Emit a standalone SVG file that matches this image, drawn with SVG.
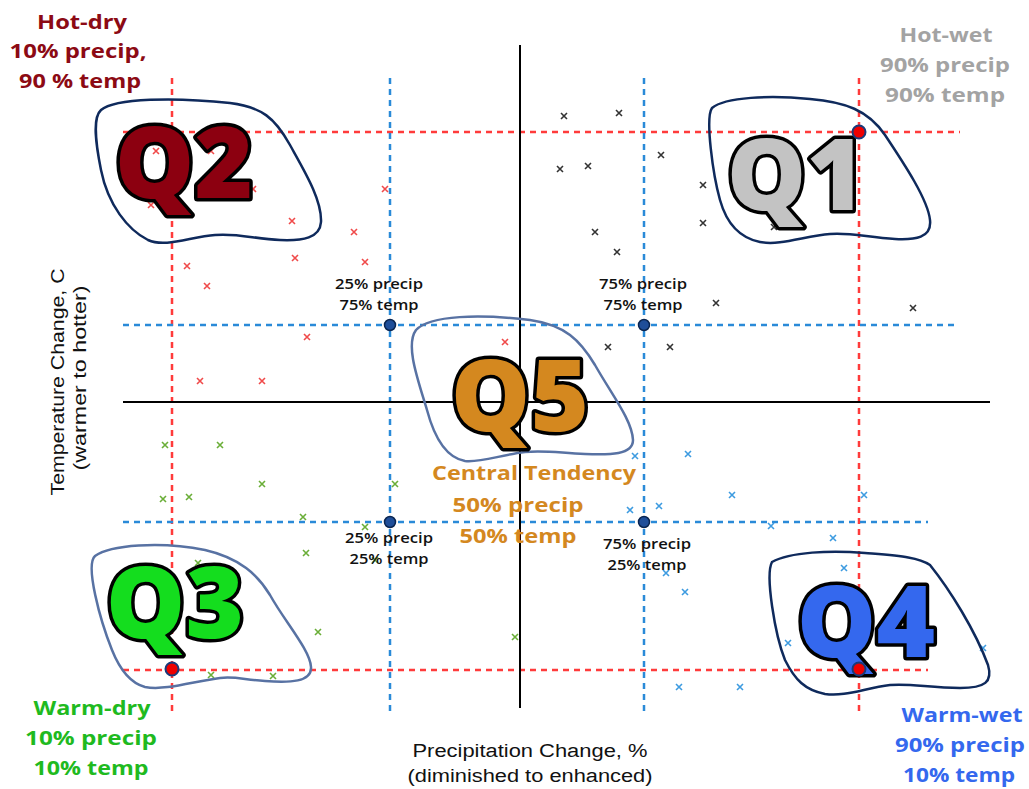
<svg xmlns="http://www.w3.org/2000/svg" width="1029" height="789" viewBox="0 0 1029 789">
  <defs>
    <style>
      .axis { stroke: #000; stroke-width: 2; fill: none; }
      .red-dash { stroke: #ff3b3b; stroke-width: 2.5; stroke-dasharray: 6 5; fill: none; }
      .blue-dash { stroke: #2a8ad8; stroke-width: 2.5; stroke-dasharray: 6 5; fill: none; }
      .blob-dark { fill: none; stroke: #0f2a5c; stroke-width: 2.5; }
      .blob-light { fill: none; stroke: #5872a3; stroke-width: 2.5; }
      .qlabel { font-family: "Open Sans", "DejaVu Sans", sans-serif; font-weight: 800; font-size: 100px; stroke: #000; stroke-width: 7; stroke-linejoin: round; paint-order: stroke; text-anchor: middle; }
      .corner { font-family: "Open Sans", "DejaVu Sans", sans-serif; font-weight: 700; font-size: 20px; text-anchor: middle; }
      .small { font-family: "Open Sans", "DejaVu Sans", sans-serif; font-weight: 600; font-size: 15px; fill: #111; text-anchor: middle; }
      .title { font-family: "Liberation Sans", Arial, sans-serif; font-size: 18px; fill: #111; text-anchor: middle; }
      .mk { stroke-width: 1.6; fill: none; }
      .pt-blue { fill: #1f4e99; stroke: #0a2550; stroke-width: 1.5; }
      .pt-red { fill: #ee0000; stroke: #1a3a7a; stroke-width: 2; }
    </style>
    <path id="x" d="M -3,-3 L 3,3 M 3,-3 L -3,3"/>
  </defs>

  <!-- Percentile guide lines and axes -->
  <g id="connectors">
    <line class="red-dash" x1="172" y1="78" x2="172" y2="712"/>
    <line class="red-dash" x1="859" y1="78" x2="859" y2="712"/>
    <line class="red-dash" x1="123" y1="132" x2="960" y2="132"/>
    <line class="red-dash" x1="123" y1="670" x2="928" y2="670"/>
    <line class="blue-dash" x1="390" y1="78" x2="390" y2="712"/>
    <line class="blue-dash" x1="644" y1="78" x2="644" y2="712"/>
    <line class="blue-dash" x1="123" y1="325" x2="958" y2="325"/>
    <line class="blue-dash" x1="123" y1="522" x2="928" y2="522"/>
    <line class="axis" x1="520" y1="45" x2="520" y2="708"/>
    <line class="axis" x1="123" y1="402" x2="990" y2="402"/>
  </g>

  <!-- Model projections -->
  <g id="scatter-hot-dry" class="mk" stroke="#f04a4a">
    <use href="#x" x="156" y="151"/><use href="#x" x="211" y="151"/><use href="#x" x="253" y="189"/>
    <use href="#x" x="385" y="189"/><use href="#x" x="151" y="205"/><use href="#x" x="292" y="221"/>
    <use href="#x" x="354" y="232"/><use href="#x" x="295" y="258"/><use href="#x" x="365" y="262"/>
    <use href="#x" x="187" y="266"/><use href="#x" x="207" y="286"/><use href="#x" x="307" y="337"/>
    <use href="#x" x="200" y="381"/><use href="#x" x="262" y="381"/><use href="#x" x="505" y="342"/>
  </g>
  <g id="scatter-hot-wet" class="mk" stroke="#333">
    <use href="#x" x="564" y="116"/><use href="#x" x="619" y="113"/><use href="#x" x="560" y="169"/>
    <use href="#x" x="588" y="166"/><use href="#x" x="661" y="155"/><use href="#x" x="703" y="185"/>
    <use href="#x" x="703" y="223"/><use href="#x" x="774" y="227"/><use href="#x" x="595" y="232"/>
    <use href="#x" x="617" y="252"/><use href="#x" x="716" y="303"/><use href="#x" x="913" y="308"/>
    <use href="#x" x="608" y="347"/><use href="#x" x="670" y="347"/>
  </g>
  <g id="scatter-warm-dry" class="mk" stroke="#6aae38">
    <use href="#x" x="165" y="445"/><use href="#x" x="220" y="445"/><use href="#x" x="262" y="484"/>
    <use href="#x" x="395" y="484"/><use href="#x" x="163" y="499"/><use href="#x" x="189" y="497"/>
    <use href="#x" x="303" y="517"/><use href="#x" x="365" y="527"/><use href="#x" x="306" y="553"/>
    <use href="#x" x="198" y="563"/><use href="#x" x="375" y="560"/><use href="#x" x="318" y="632"/>
    <use href="#x" x="515" y="637"/><use href="#x" x="211" y="675"/><use href="#x" x="273" y="676"/>
  </g>
  <g id="scatter-warm-wet" class="mk" stroke="#3d9be0">
    <use href="#x" x="635" y="456"/><use href="#x" x="688" y="454"/><use href="#x" x="732" y="495"/>
    <use href="#x" x="864" y="495"/><use href="#x" x="630" y="510"/><use href="#x" x="659" y="506"/>
    <use href="#x" x="771" y="526"/><use href="#x" x="833" y="538"/><use href="#x" x="844" y="568"/>
    <use href="#x" x="666" y="573"/><use href="#x" x="685" y="592"/><use href="#x" x="788" y="643"/>
    <use href="#x" x="983" y="648"/><use href="#x" x="679" y="687"/><use href="#x" x="740" y="687"/>
  </g>

  <!-- Quadrant groupings -->
  <g id="q2">
    <path class="blob-dark" d="M 101,110 C 115,98 175,97 230,103 C 262,107 275,118 290,145 C 305,172 322,200 321,222 C 320,238 303,241 280,240 C 255,239 238,233 215,235 C 190,237 165,248 148,240 C 128,230 108,205 101,170 C 96,145 92,118 101,110 Z"/>
    <text class="qlabel" x="184" y="198" fill="#8c0010">Q2</text>
  </g>
  <g id="q1">
    <path class="blob-dark" d="M 712,108 C 725,97 770,95 810,99 C 845,102 868,110 885,135 C 905,165 928,200 930,220 C 932,238 915,240 895,239 C 870,238 850,232 830,234 C 805,236 780,246 760,242 C 740,238 727,225 720,200 C 713,175 705,118 712,108 Z"/>
    <text class="qlabel" x="796" y="210" fill="#c3c3c3">Q1</text>
  </g>
  <g id="q5">
    <path class="blob-light" d="M 416,330 C 430,315 480,314 530,320 C 565,325 580,340 595,365 C 612,395 632,420 633,440 C 633,455 610,455 585,454 C 560,453 545,450 525,452 C 500,455 480,463 465,461 C 448,458 435,440 427,410 C 418,380 405,345 416,330 Z"/>
    <text class="qlabel" x="520" y="431" fill="#d4881f" font-size="96">Q5</text>
  </g>
  <g id="q3">
    <path class="blob-light" d="M 95,556 C 110,545 160,541 205,550 C 240,558 258,575 270,595 C 285,622 310,650 311,667 C 312,682 290,683 265,681 C 245,680 235,676 220,678 C 195,681 165,691 145,687 C 130,683 120,670 112,650 C 100,620 85,565 95,556 Z"/>
    <text class="qlabel" x="175" y="638" fill="#14dd1e">Q3</text>
  </g>
  <g id="q4">
    <path class="blob-dark" d="M 772,562 C 790,552 830,550 865,553 C 900,556 918,557 930,565 C 950,590 975,630 988,665 C 993,682 985,688 960,688 C 930,688 910,683 890,685 C 865,688 845,697 825,694 C 805,690 795,680 785,660 C 775,635 765,575 772,562 Z"/>
    <text class="qlabel" x="866" y="657" fill="#3468ee">Q4</text>
  </g>

  <!-- Percentile markers -->
  <g id="markers">
    <circle class="pt-blue" cx="390" cy="325" r="5.5"/>
    <circle class="pt-blue" cx="644" cy="325" r="5.5"/>
    <circle class="pt-blue" cx="390" cy="522" r="5.5"/>
    <circle class="pt-blue" cx="644" cy="522" r="5.5"/>
    <circle class="pt-red" cx="859" cy="132" r="6.5"/>
    <circle class="pt-red" cx="172" cy="669" r="6.5"/>
    <circle class="pt-red" cx="859" cy="669" r="6.5"/>
  </g>

  <!-- Percentile labels -->
  <g id="label-25-75">
    <text class="small" x="379" y="289" textLength="88" lengthAdjust="spacingAndGlyphs">25% precip</text>
    <text class="small" x="379" y="310" textLength="79" lengthAdjust="spacingAndGlyphs">75% temp</text>
  </g>
  <g id="label-75-75">
    <text class="small" x="643" y="289" textLength="88" lengthAdjust="spacingAndGlyphs">75% precip</text>
    <text class="small" x="643" y="310" textLength="79" lengthAdjust="spacingAndGlyphs">75% temp</text>
  </g>
  <g id="label-25-25">
    <text class="small" x="389" y="543" textLength="88" lengthAdjust="spacingAndGlyphs">25% precip</text>
    <text class="small" x="389" y="564" textLength="79" lengthAdjust="spacingAndGlyphs">25% temp</text>
  </g>
  <g id="label-75-25">
    <text class="small" x="647" y="549" textLength="88" lengthAdjust="spacingAndGlyphs">75% precip</text>
    <text class="small" x="647" y="570" textLength="79" lengthAdjust="spacingAndGlyphs">25% temp</text>
  </g>

  <g id="label-central" class="corner" fill="#d4881f" font-size="21">
    <text x="534" y="480" textLength="204" lengthAdjust="spacingAndGlyphs">Central Tendency</text>
    <text x="518" y="512" textLength="131" lengthAdjust="spacingAndGlyphs">50% precip</text>
    <text x="518" y="543" textLength="117" lengthAdjust="spacingAndGlyphs">50% temp</text>
  </g>

  <!-- Scenario corner labels -->
  <g id="label-hot-dry" class="corner" fill="#8c0a14">
    <text x="82" y="29" textLength="90" lengthAdjust="spacingAndGlyphs">Hot-dry</text>
    <text x="78" y="58" textLength="137" lengthAdjust="spacingAndGlyphs">10% precip,</text>
    <text x="80" y="88" textLength="122" lengthAdjust="spacingAndGlyphs">90 % temp</text>
  </g>
  <g id="label-hot-wet" class="corner" fill="#a3a3a3">
    <text x="946" y="42" textLength="93" lengthAdjust="spacingAndGlyphs">Hot-wet</text>
    <text x="945" y="72" textLength="130" lengthAdjust="spacingAndGlyphs">90% precip</text>
    <text x="945" y="102" textLength="120" lengthAdjust="spacingAndGlyphs">90% temp</text>
  </g>
  <g id="label-warm-dry" class="corner" fill="#1fba1f">
    <text x="92" y="715" textLength="117" lengthAdjust="spacingAndGlyphs">Warm-dry</text>
    <text x="91" y="745" textLength="132" lengthAdjust="spacingAndGlyphs">10% precip</text>
    <text x="91" y="775" textLength="115" lengthAdjust="spacingAndGlyphs">10% temp</text>
  </g>
  <g id="label-warm-wet" class="corner" fill="#3468ee">
    <text x="962" y="722" textLength="121" lengthAdjust="spacingAndGlyphs">Warm-wet</text>
    <text x="960" y="752" textLength="130" lengthAdjust="spacingAndGlyphs">90% precip</text>
    <text x="959" y="782" textLength="112" lengthAdjust="spacingAndGlyphs">10% temp</text>
  </g>

  <!-- Axis titles -->
  <g id="x-title" class="title">
    <text x="530" y="757" textLength="235" lengthAdjust="spacingAndGlyphs">Precipitation Change, %</text>
    <text x="530" y="782" textLength="245" lengthAdjust="spacingAndGlyphs">(diminished to enhanced)</text>
  </g>
  <g id="y-title" class="title">
    <text transform="translate(64,382) rotate(-90)" textLength="227" lengthAdjust="spacingAndGlyphs">Temperature Change, C</text>
    <text transform="translate(86,378) rotate(-90)" textLength="185" lengthAdjust="spacingAndGlyphs">(warmer to hotter)</text>
  </g>
</svg>
